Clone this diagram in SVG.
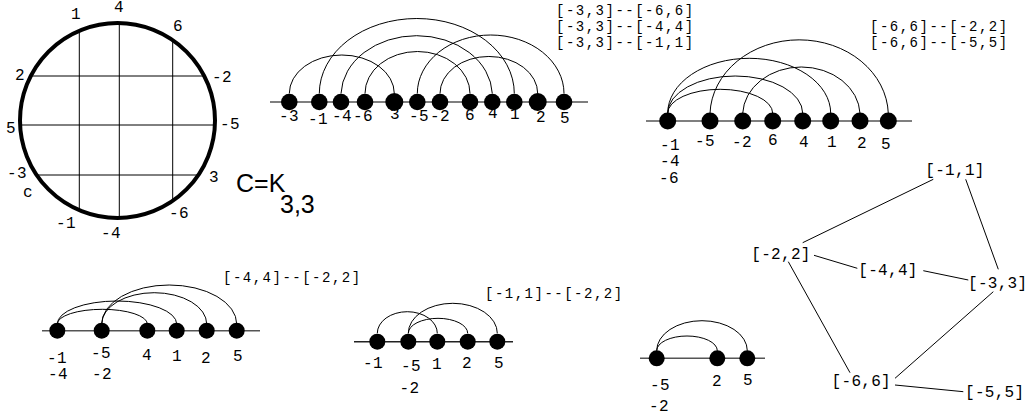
<svg xmlns="http://www.w3.org/2000/svg" width="1030" height="417" viewBox="0 0 1030 417">
<style>
.l{font-family:"Liberation Mono",monospace;font-size:16px;letter-spacing:0.3px;fill:#000;text-anchor:middle}
.t{font-family:"Liberation Mono",monospace;font-size:14px;letter-spacing:1.5px;fill:#000}
.arc{fill:none;stroke:#000;stroke-width:1}
.ax{stroke:#555;stroke-width:1.5}
.ch{stroke:#000;stroke-width:1}
.e{stroke:#000;stroke-width:1}
</style>
<rect width="1030" height="417" fill="#fff"/>

<g id="chord-diagram">
  <line class="ch" x1="79.3" y1="30.8" x2="79.3" y2="210.2"/>
  <line class="ch" x1="119.3" y1="23" x2="119.3" y2="218"/>
  <line class="ch" x1="172.7" y1="40.1" x2="172.7" y2="200.9"/>
  <line class="ch" x1="30.8" y1="76" x2="204.2" y2="76"/>
  <line class="ch" x1="20.1" y1="125" x2="214.9" y2="125"/>
  <line class="ch" x1="36.7" y1="175" x2="198.3" y2="175"/>
  <circle cx="117.5" cy="120.5" r="97.5" fill="none" stroke="#000" stroke-width="4"/>
  <text class="l" x="76" y="19">1</text>
  <text class="l" x="119" y="12">4</text>
  <text class="l" x="178" y="31">6</text>
  <text class="l" x="20" y="80">2</text>
  <text class="l" x="222" y="82">-2</text>
  <text class="l" x="11" y="133">5</text>
  <text class="l" x="230" y="129">-5</text>
  <text class="l" x="17" y="178">-3</text>
  <text class="l" x="28" y="197">c</text>
  <text class="l" x="214" y="182">3</text>
  <text class="l" x="179" y="218">-6</text>
  <text class="l" x="66" y="228">-1</text>
  <text class="l" x="111" y="238">-4</text>
</g>

<g id="caption">
  <text x="236" y="192" font-family="Liberation Sans, Arial, sans-serif" font-size="25">C=K</text>
  <text x="280" y="213" font-family="Liberation Sans, Arial, sans-serif" font-size="25">3,3</text>
</g>

<g id="arc-diagram-1">
  <line class="ax" x1="270" y1="102" x2="588" y2="102"/>
  <path class="arc" d="M289.3 93.5A52.5 38.5 0 0 1 394.3 93.5"/>
  <path class="arc" d="M319.3 93.5A97.5 75 0 0 1 514.3 93.5"/>
  <path class="arc" d="M341 93.5A75.7 60 0 0 1 492.3 93.5"/>
  <path class="arc" d="M365 93.5A52.5 42 0 0 1 470 93.5"/>
  <path class="arc" d="M417.3 93.5A73.3 58.5 0 0 1 564 93.5"/>
  <path class="arc" d="M440 93.5A48.8 37 0 0 1 537.7 93.5"/>
  <circle cx="289.3" cy="102" r="8.3"/>
  <circle cx="319.3" cy="102" r="8.3"/>
  <circle cx="341" cy="102" r="8.3"/>
  <circle cx="365" cy="102" r="8.3"/>
  <circle cx="394.3" cy="102" r="9"/>
  <circle cx="417.3" cy="102" r="8.3"/>
  <circle cx="440" cy="102" r="8.3"/>
  <circle cx="470" cy="102" r="8.3"/>
  <circle cx="492.3" cy="102" r="8.3"/>
  <circle cx="514.3" cy="102" r="8.3"/>
  <circle cx="537.7" cy="102" r="9"/>
  <circle cx="564" cy="102" r="8.3"/>
  <text class="l" x="289" y="121">-3</text>
  <text class="l" x="318" y="124">-1</text>
  <text class="l" x="342" y="121">-4</text>
  <text class="l" x="363" y="121">-6</text>
  <text class="l" x="395" y="119">3</text>
  <text class="l" x="419" y="121">-5</text>
  <text class="l" x="440" y="121">-2</text>
  <text class="l" x="470" y="120">6</text>
  <text class="l" x="493" y="118">4</text>
  <text class="l" x="515" y="119">1</text>
  <text class="l" x="541" y="122">2</text>
  <text class="l" x="565" y="123">5</text>
  <text class="t" x="556" y="15">[-3,3]--[-6,6]</text>
  <text class="t" x="556" y="31">[-3,3]--[-4,4]</text>
  <text class="t" x="556" y="47">[-3,3]--[-1,1]</text>
</g>

<g id="arc-diagram-2">
  <line class="ax" x1="646" y1="121" x2="912" y2="121"/>
  <path class="arc" d="M667.7 113.3A52.5 24 0 0 1 772.7 113.3"/>
  <path class="arc" d="M667.7 113.3A67.5 37.3 0 0 1 802.7 113.3"/>
  <path class="arc" d="M667.7 113.3A81.5 55 0 0 1 830.7 113.3"/>
  <path class="arc" d="M710 113.3A89.2 76 0 0 1 888.3 113.3"/>
  <path class="arc" d="M742.7 113.3A58.7 48.3 0 0 1 860 113.3"/>
  <circle cx="667.7" cy="121" r="8.5"/>
  <circle cx="710" cy="121" r="8.5"/>
  <circle cx="742.7" cy="121" r="8.5"/>
  <circle cx="772.7" cy="121" r="8.5"/>
  <circle cx="802.7" cy="121" r="8.5"/>
  <circle cx="830.7" cy="121" r="8.5"/>
  <circle cx="860" cy="121" r="8.5"/>
  <circle cx="888.3" cy="121" r="8.5"/>
  <text class="l" x="670" y="149.5">-1</text>
  <text class="l" x="670" y="165.5">-4</text>
  <text class="l" x="669" y="183">-6</text>
  <text class="l" x="705" y="146">-5</text>
  <text class="l" x="742" y="147">-2</text>
  <text class="l" x="773" y="145">6</text>
  <text class="l" x="804" y="147">4</text>
  <text class="l" x="832" y="147">1</text>
  <text class="l" x="862" y="148">2</text>
  <text class="l" x="886" y="149">5</text>
  <text class="t" x="870" y="31">[-6,6]--[-2,2]</text>
  <text class="t" x="870" y="47">[-6,6]--[-5,5]</text>
</g>

<g id="arc-diagram-3">
  <line class="ax" x1="42" y1="330.7" x2="260" y2="330.7"/>
  <path class="arc" d="M57.3 324A45 14.7 0 0 1 147.3 324"/>
  <path class="arc" d="M57.3 324A59.7 23 0 0 1 176.7 324"/>
  <path class="arc" d="M101.7 324A52.5 31.3 0 0 1 206.7 324"/>
  <path class="arc" d="M101.7 324A67.5 39 0 0 1 236.7 324"/>
  <circle cx="57.3" cy="330.7" r="8"/>
  <circle cx="101.7" cy="330.7" r="8"/>
  <circle cx="147.3" cy="330.7" r="8"/>
  <circle cx="176.7" cy="330.7" r="8"/>
  <circle cx="206.7" cy="330.7" r="8"/>
  <circle cx="236.7" cy="330.7" r="8"/>
  <text class="l" x="57" y="363">-1</text>
  <text class="l" x="58" y="379">-4</text>
  <text class="l" x="101" y="358">-5</text>
  <text class="l" x="102" y="379">-2</text>
  <text class="l" x="147" y="359.5">4</text>
  <text class="l" x="177" y="361">1</text>
  <text class="l" x="206" y="363">2</text>
  <text class="l" x="238" y="360.5">5</text>
  <text class="t" x="223" y="281.5">[-4,4]--[-2,2]</text>
</g>

<g id="arc-diagram-4">
  <line class="ax" x1="354" y1="341.7" x2="513" y2="341.7" style="stroke:#222"/>
  <path class="arc" d="M377.3 333.3A30 21.6 0 0 1 437.3 333.3"/>
  <path class="arc" d="M408.3 333.3A29.7 15 0 0 1 467.7 333.3"/>
  <path class="arc" d="M408.3 333.3A44.5 30 0 0 1 497.3 333.3"/>
  <circle cx="377.3" cy="341.7" r="8"/>
  <circle cx="408.3" cy="341.7" r="8"/>
  <circle cx="437.3" cy="341.7" r="8"/>
  <circle cx="467.7" cy="341.7" r="8"/>
  <circle cx="497.3" cy="341.7" r="8"/>
  <text class="l" x="373" y="368">-1</text>
  <text class="l" x="411" y="371">-5</text>
  <text class="l" x="437" y="369">1</text>
  <text class="l" x="467" y="368">2</text>
  <text class="l" x="499" y="367.5">5</text>
  <text class="l" x="409.5" y="393">-2</text>
  <text class="t" x="485" y="298">[-1,1]--[-2,2]</text>
</g>

<g id="arc-diagram-5">
  <line class="ax" x1="640" y1="358.3" x2="765" y2="358.3"/>
  <path class="arc" d="M656.7 350.7A30.3 14.7 0 0 1 717.3 350.7"/>
  <path class="arc" d="M656.7 350.7A45.3 30 0 0 1 747.3 350.7"/>
  <circle cx="656.7" cy="358.3" r="8"/>
  <circle cx="717.3" cy="358.3" r="8"/>
  <circle cx="747.3" cy="358.3" r="8"/>
  <text class="l" x="660" y="389.5">-5</text>
  <text class="l" x="659" y="411">-2</text>
  <text class="l" x="717" y="386">2</text>
  <text class="l" x="748" y="384.5">5</text>
</g>

<g id="graph-edges">
  <line class="e" x1="933.3" y1="179.3" x2="802.7" y2="242.7"/>
  <line class="e" x1="965.7" y1="179.3" x2="998.3" y2="269.3"/>
  <line class="e" x1="814" y1="255.3" x2="857.3" y2="268.3"/>
  <line class="e" x1="923.3" y1="270.7" x2="968.3" y2="280"/>
  <line class="e" x1="788.3" y1="261.7" x2="850" y2="372.7"/>
  <line class="e" x1="993.3" y1="291.7" x2="895" y2="378.3"/>
  <line class="e" x1="895" y1="385" x2="963.3" y2="391.7"/>
</g>
<g id="node-m1-1"><text class="l" x="955" y="175">[-1,1]</text></g>
<g id="node-m2-2"><text class="l" x="781" y="258.5">[-2,2]</text></g>
<g id="node-m4-4"><text class="l" x="888" y="275">[-4,4]</text></g>
<g id="node-m3-3"><text class="l" x="997.7" y="288">[-3,3]</text></g>
<g id="node-m6-6"><text class="l" x="861.3" y="386">[-6,6]</text></g>
<g id="node-m5-5"><text class="l" x="994.7" y="397">[-5,5]</text></g>
</svg>
